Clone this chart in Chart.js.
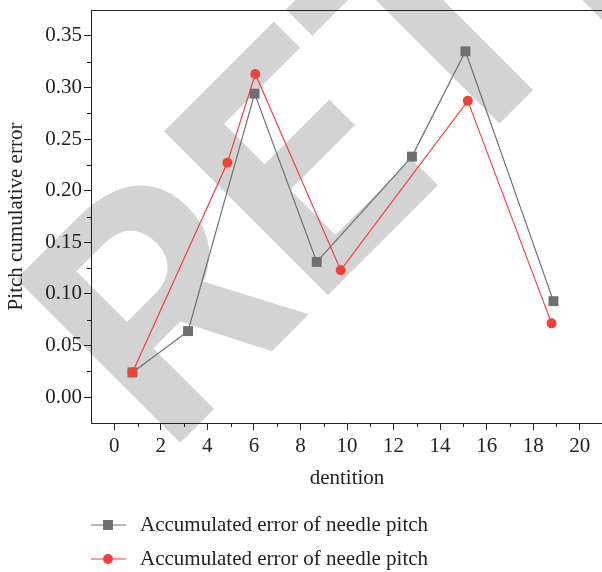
<!DOCTYPE html>
<html>
<head>
<meta charset="utf-8">
<script src="https://cdn.jsdelivr.net/npm/chart.js@4"></script>
<style>
  body { margin: 0; overflow: hidden; background: #fff; }
  #chart { display: block; }
</style>
</head>
<body>
<canvas id="chart" width="610" height="572"></canvas>
<script>
// data
var seriesLabels = ['Accumulated error of needle pitch', 'Accumulated error of needle pitch'];
var grayX = [0.78, 3.17, 6.03, 8.70, 12.79, 15.09, 18.87];
var grayY = [0.024, 0.064, 0.294, 0.131, 0.233, 0.335, 0.093];
var redX = [0.78, 4.86, 6.06, 9.73, 15.19, 18.79];
var redY = [0.024, 0.227, 0.313, 0.123, 0.287, 0.0715];

var xTicks = [0, 2, 4, 6, 8, 10, 12, 14, 16, 18, 20];
var xMinorTicks = [1, 3, 5, 7, 9, 11, 13, 15, 17, 19];
var yTicks = [0, 0.05, 0.10, 0.15, 0.20, 0.25, 0.30, 0.35];
var yMinorTicks = [0.025, 0.075, 0.125, 0.175, 0.225, 0.275, 0.325];

var GRAY = '#6e6e73';
var RED = '#f0413b';
var AXIS = '#222222';
var FONT = "'Liberation Serif', 'Times New Roman', serif";

function toPoints(xs, ys) {
  var pts = [];
  for (var i = 0; i < xs.length; i++) {
    pts.push({x: xs[i], y: ys[i]});
  }
  return pts;
}

// grey "RETRACTED" stamp behind the whole figure
var watermark = {
  id: 'watermark',
  beforeDraw: function(chart) {
    var ctx = chart.ctx;
    ctx.save();
    ctx.fillStyle = '#fff';
    ctx.fillRect(0, 0, chart.width, chart.height);
    ctx.translate(180, 443);
    ctx.rotate(-Math.PI / 4);
    ctx.font = "bold 326px Roboto, 'Liberation Sans', sans-serif";
    ctx.textAlign = 'left';
    ctx.textBaseline = 'alphabetic';
    ctx.fillStyle = '#d3d3d3';
    var m = ctx.measureText('R');
    ctx.fillText('RETRACTED', m.actualBoundingBoxLeft, 0);
    ctx.restore();
  }
};

// top frame line, minor ticks and the legend below the axis title
var extras = {
  id: 'extras',
  afterDraw: function(chart) {
    var ctx = chart.ctx;
    var area = chart.chartArea;
    var xs = chart.scales.x, ys = chart.scales.y;
    ctx.save();
    ctx.strokeStyle = AXIS;
    ctx.lineWidth = 1;
    ctx.beginPath();
    ctx.moveTo(area.left, area.top + 0.5);
    ctx.lineTo(area.right, area.top + 0.5);
    ctx.moveTo(area.right - 0.5, area.top);
    ctx.lineTo(area.right - 0.5, area.bottom);
    xMinorTicks.forEach(function(v) {
      var px = Math.round(xs.getPixelForValue(v)) + 0.5;
      ctx.moveTo(px, area.bottom);
      ctx.lineTo(px, area.bottom + 4);
    });
    yMinorTicks.forEach(function(v) {
      var py = Math.round(ys.getPixelForValue(v)) + 0.5;
      ctx.moveTo(area.left, py);
      ctx.lineTo(area.left - 4, py);
    });
    ctx.stroke();

    // legend
    var rows = [525, 559];
    chart.data.datasets.forEach(function(ds, i) {
      var y = rows[i];
      ctx.strokeStyle = ds.borderColor;
      ctx.lineWidth = 1.2;
      ctx.beginPath();
      ctx.moveTo(91, y);
      ctx.lineTo(126, y);
      ctx.stroke();
      ctx.fillStyle = ds.pointBackgroundColor;
      if (ds.pointStyle === 'rect') {
        ctx.fillRect(103, y - 5, 10, 10);
      } else {
        ctx.beginPath();
        ctx.arc(108, y, 5, 0, Math.PI * 2);
        ctx.fill();
      }
      ctx.fillStyle = AXIS;
      ctx.font = '21px ' + FONT;
      ctx.textAlign = 'left';
      ctx.textBaseline = 'middle';
      ctx.fillText(ds.label, 140, y);
    });
    ctx.restore();
  }
};

new Chart(document.getElementById('chart'), {
  type: 'line',
  data: {
    datasets: [{
      label: seriesLabels[0],
      data: toPoints(grayX, grayY),
      borderColor: GRAY,
      backgroundColor: GRAY,
      pointBackgroundColor: GRAY,
      pointBorderColor: GRAY,
      pointStyle: 'rect',
      pointRadius: 7,
      pointBorderWidth: 0,
      borderWidth: 1.2,
      tension: 0,
      order: 1
    }, {
      label: seriesLabels[1],
      data: toPoints(redX, redY),
      borderColor: RED,
      backgroundColor: RED,
      pointBackgroundColor: RED,
      pointBorderColor: RED,
      pointStyle: 'circle',
      pointRadius: 5,
      pointBorderWidth: 0,
      borderWidth: 1.2,
      tension: 0,
      order: 0
    }]
  },
  options: {
    responsive: false,
    animation: false,
    layout: { padding: { top: 10, right: 5, bottom: 69, left: 0 } },
    plugins: {
      legend: { display: false },
      tooltip: { enabled: false }
    },
    scales: {
      x: {
        type: 'linear',
        min: -1,
        max: 21,
        afterBuildTicks: function(scale) {
          scale.ticks = xTicks.map(function(v) { return {value: v}; });
        },
        afterFit: function(scale) {
          scale.height = 80;
          scale.paddingLeft = 0;
          scale.paddingRight = 0;
        },
        border: { display: true, color: AXIS, width: 1 },
        grid: { drawOnChartArea: false, drawTicks: true, tickLength: 7, color: AXIS, tickColor: AXIS },
        ticks: {
          padding: 4,
          maxRotation: 0,
          color: AXIS,
          font: { family: FONT, size: 21, lineHeight: 1.2 },
          callback: function(v) { return String(v); }
        },
        title: {
          display: true,
          text: 'dentition',
          color: AXIS,
          font: { family: FONT, size: 21, lineHeight: 1.2 },
          padding: { top: 0, bottom: 12 }
        }
      },
      y: {
        type: 'linear',
        min: -0.025,
        max: 0.375,
        afterBuildTicks: function(scale) {
          scale.ticks = yTicks.map(function(v) { return {value: v}; });
        },
        afterFit: function(scale) {
          scale.width = 91;
          scale.paddingTop = 0;
          scale.paddingBottom = 0;
        },
        border: { display: true, color: AXIS, width: 1 },
        grid: { drawOnChartArea: false, drawTicks: true, tickLength: 7, color: AXIS, tickColor: AXIS },
        ticks: {
          padding: 2,
          color: AXIS,
          font: { family: FONT, size: 21, lineHeight: 1.2 },
          callback: function(v) { return v.toFixed(2); }
        },
        title: {
          display: true,
          text: 'Pitch cumulative error',
          color: AXIS,
          font: { family: FONT, size: 21, lineHeight: 1.2 },
          padding: { top: 4, bottom: 0 }
        }
      }
    }
  },
  plugins: [watermark, extras]
});
</script>
</body>
</html>
